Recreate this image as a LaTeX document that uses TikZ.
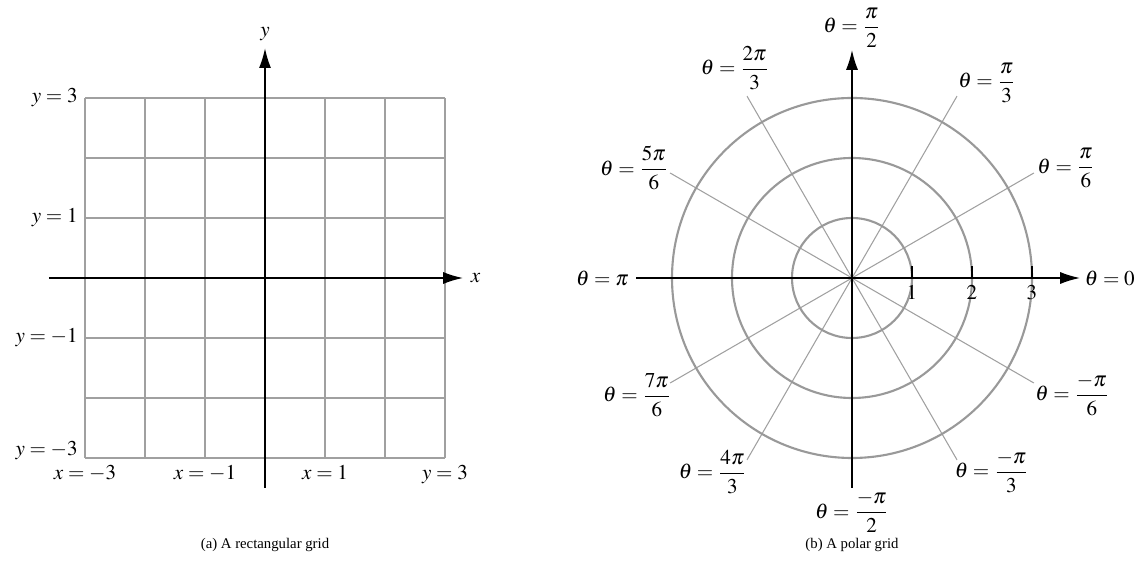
\documentclass[tikz,border=0pt]{standalone}
\usepackage{amsmath}
\usepackage{mathptmx}
\usepackage{fontspec}
\setmainfont{Liberation Serif}
\usetikzlibrary{arrows.meta}
\begin{document}
\begin{tikzpicture}[x=1cm,y=1cm, every node/.style={font=\normalsize},
  axis/.style={line width=0.7pt, -{Latex[length=3.3mm,width=2mm]}},
  gridline/.style={draw=gridGray, line width=0.5pt},
  ring/.style={draw=ringGray, line width=1pt},
  spoke/.style={draw=gridGray, line width=0.5pt}]
  \definecolor{gridGray}{HTML}{A0A0A0}
  \definecolor{ringGray}{HTML}{999999}
  \useasboundingbox (-4.4167,-4.95) rectangle (14.5167,4.6333);
  % (a) rectangular grid
  \draw[gridline] (-3,-3) grid (3,3);
  \draw[axis] (-3.6,0) -- (3.3,0) node[right] (xl) {$x$};
  \draw[axis] (0,-3.5) -- (0,3.83) node[above] (yl) {$y$};
  \foreach \v/\p [count=\k] in {3/3,1/1,-1/-1,-3/-2.87}
    \node[left] (ly\k) at (-3,\p) {$y=\v$};
  \foreach \v/\lab [count=\k] in {-3/x=-3, -1/x=-1, 1/x=1, 3/y=3}
    \node[below] (lx\k) at (\v,-3) {$\lab$};
  \node[font=\scriptsize] (capa) at (0,-4.45) {(a) A rectangular grid};
  % (b) polar grid
  \begin{scope}[shift={(9.7833,0)}]
    \foreach \a in {30,60,120,150,210,240,300,330}
      \draw[spoke] (0,0) -- (\a:3.5);
    \foreach \r in {1,2,3}{
      \draw[ring] (0,0) circle (\r);
      \draw[line width=0.7pt] (\r,0) -- (\r,0.2);
      \node[below] (t\r) at (\r,0) {$\r$};
    }
    \draw[axis] (-3.6,0) -- (3.8,0) node[right, inner sep=2pt] (p0) {$\theta=0$};
    \node[left] (ppi) at (-3.6,0) {$\theta=\pi$};
    \draw[axis] (0,-3.5) -- (0,3.8);
    \node[inner sep=1pt] (ph) at (0,4.17) {$\theta=\dfrac{\pi}{2}$};
    \node[below, inner sep=1.5pt] (pmh) at (0,-3.5) {$\theta=\dfrac{-\pi}{2}$};
    \foreach \nm/\x/\y/\num/\den in {
      1/2.25/3.25/\pi/3, 2/3.57/1.83/\pi/6,
      3/-1.95/3.5/2\pi/3, 4/-3.63/1.83/5\pi/6,
      5/-3.58/-1.95/7\pi/6, 6/3.67/-1.95/-\pi/6,
      7/-2.32/-3.23/4\pi/3, 8/2.33/-3.23/-\pi/3}
      \node (p\nm) at (\x,\y) {$\theta=\dfrac{\num}{\den}$};
    \node[font=\scriptsize] (capb) at (0,-4.45) {(b) A polar grid};
  \end{scope}
\end{tikzpicture}
\end{document}
